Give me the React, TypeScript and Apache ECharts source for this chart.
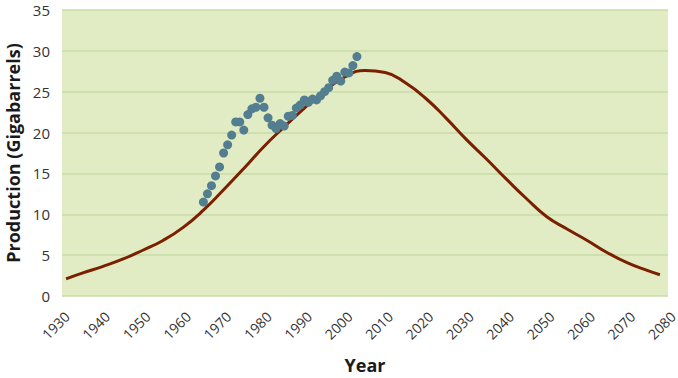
import React, { useEffect, useRef } from "react";
import * as echarts from "echarts";

const curveYears = [1931, 1935, 1940, 1945, 1950, 1955, 1960, 1965, 1970, 1975, 1980, 1985, 1990, 1995, 2000, 2005, 2010, 2015, 2020, 2025, 2030, 2035, 2040, 2045, 2050, 2055, 2060, 2065, 2070, 2075, 2078];
const curveValues = [2.1, 2.8, 3.6, 4.5, 5.6, 6.8, 8.4, 10.5, 13.0, 15.6, 18.3, 20.7, 23.0, 25.1, 26.8, 27.6, 27.35, 26.1, 24.2, 21.8, 19.2, 16.8, 14.3, 11.9, 9.7, 8.2, 6.8, 5.3, 4.05, 3.1, 2.6];

const obsYears = [1965, 1966, 1967, 1968, 1969, 1970, 1971, 1972, 1973, 1974, 1975, 1976, 1977, 1978, 1979, 1980, 1981, 1982, 1983, 1984, 1985, 1986, 1987, 1988, 1989, 1990, 1991, 1992, 1993, 1994, 1995, 1996, 1997, 1998, 1999, 2000, 2001, 2002, 2003];
const obsValues = [11.5, 12.5, 13.5, 14.7, 15.8, 17.5, 18.5, 19.7, 21.3, 21.3, 20.3, 22.2, 22.9, 23.1, 24.2, 23.1, 21.8, 20.9, 20.5, 21.1, 20.8, 22.0, 22.1, 23.0, 23.4, 24.0, 23.7, 24.1, 24.0, 24.5, 25.0, 25.5, 26.4, 26.9, 26.3, 27.4, 27.3, 28.2, 29.3];

const xTicks = { min: 1930, max: 2080, interval: 10 };
const yTicks = { min: 0, max: 35, interval: 5 };

export default function App() {
  const ref = useRef<HTMLDivElement>(null);
  useEffect(() => {
    if (!ref.current) return;
    const chart = echarts.init(ref.current, undefined, { renderer: "svg" });
    const font = "'Open Sans', 'Noto Sans', sans-serif";
    chart.setOption({
      animation: false,
      backgroundColor: "#ffffff",
      grid: {
        left: 62,
        right: 10,
        top: 10,
        bottom: 82,
        containLabel: false,
        outerBoundsMode: "none",
        show: true,
        backgroundColor: "#E2ECC4",
        borderWidth: 0,
      },
      xAxis: {
        type: "value",
        min: xTicks.min,
        max: xTicks.max,
        interval: xTicks.interval,
        name: "Year",
        nameLocation: "middle",
        nameGap: 60,
        nameTextStyle: { fontFamily: font, fontWeight: "bold", fontSize: 18, color: "#1a1a1a" },
        axisLine: { show: false },
        axisTick: { show: false },
        splitLine: { show: false },
        axisLabel: {
          rotate: 45,
          margin: 13,
          verticalAlign: "top",
          fontFamily: font,
          fontSize: 14,
          color: "#333333",
          formatter: (v: number) => String(v),
        },
      },
      yAxis: {
        type: "value",
        min: yTicks.min,
        max: yTicks.max,
        interval: yTicks.interval,
        name: "Production (Gigabarrels)",
        nameLocation: "middle",
        nameGap: 40,
        nameTextStyle: { fontFamily: font, fontWeight: "bold", fontSize: 18, color: "#1a1a1a" },
        axisLine: { show: false },
        axisTick: { show: false },
        splitLine: { show: true, lineStyle: { color: "#C9DDA9", width: 1.5 } },
        axisLabel: { fontFamily: font, fontSize: 15, color: "#333333", margin: 12 },
      },
      series: [
        {
          type: "line",
          data: curveYears.map((y, i) => [y, curveValues[i]]),
          smooth: 0.5,
          showSymbol: false,
          lineStyle: { color: "#7A2000", width: 3 },
          z: 2,
        },
        {
          type: "scatter",
          data: obsYears.map((y, i) => [y, obsValues[i]]),
          symbolSize: 9,
          itemStyle: { color: "#527E90", opacity: 1 },
          z: 3,
        },
      ],
    });
    return () => chart.dispose();
  }, []);
  return <div ref={ref} style={{ width: 678, height: 378, position: "absolute", left: 0, top: 0 }} />;
}
